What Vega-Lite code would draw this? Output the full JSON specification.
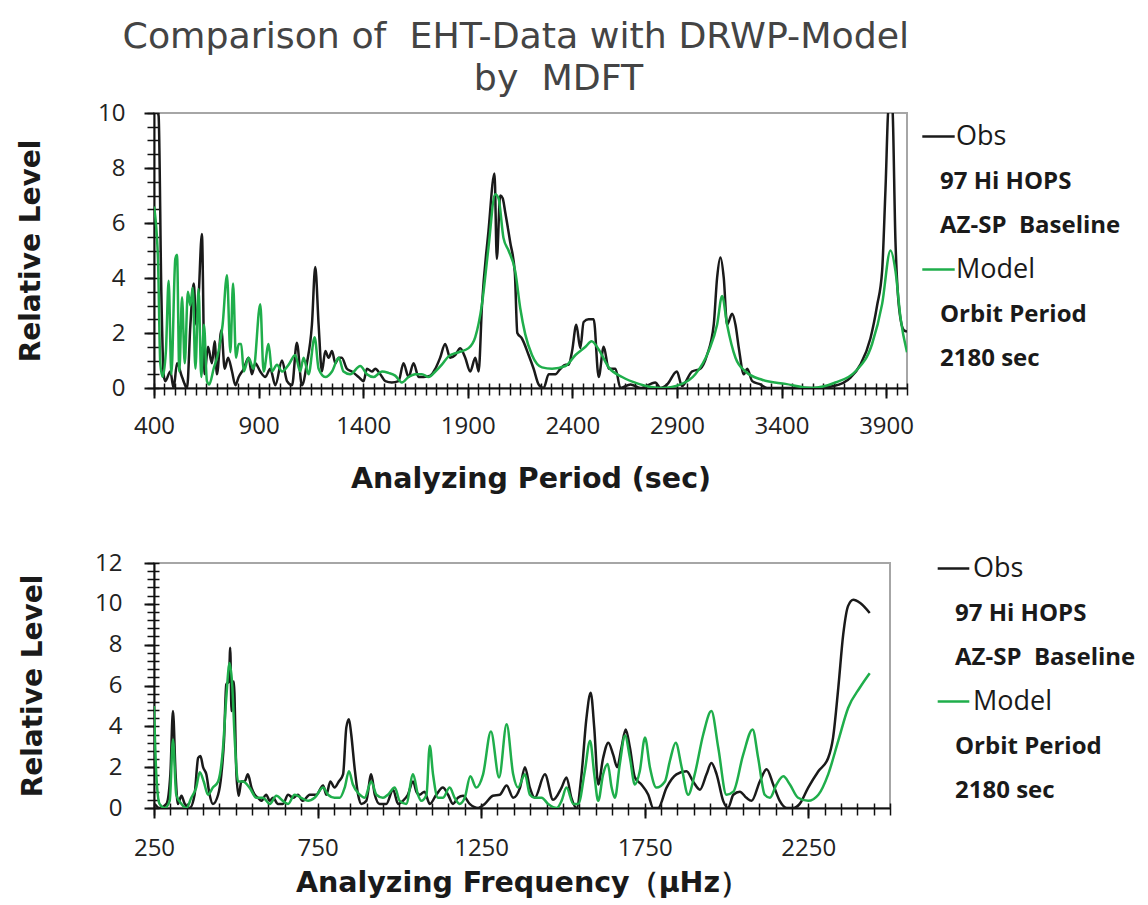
{
"$schema": "https://vega.github.io/schema/vega-lite/v6.json",
"background": "white",
"padding": {"left": 16, "top": 19, "right": 2, "bottom": 2},
"config": {"view": {"stroke": "#a6a6a6", "strokeWidth": 2}},
"title": {"text": "Comparison of \u00a0EHT-Data with DRWP-Model", "font": "DejaVu Sans", "fontSize": 36.3, "fontWeight": "normal", "color": "#444444", "anchor": "start", "dx": 106, "offset": 4},
"datasets": {
"top": [
{"p":400,"v":10.3,"s":"Obs"},{"p":403,"v":10.3,"s":"Obs"},{"p":422,"v":9.9,"s":"Obs"},{"p":435,"v":3.5,"s":"Obs"},{"p":446,"v":0.5,"s":"Obs"},{"p":454,"v":0.25,"s":"Obs"},{"p":478,"v":0.6,"s":"Obs"},{"p":494,"v":0,"s":"Obs"},{"p":510,"v":0.9,"s":"Obs"},{"p":534,"v":0.4,"s":"Obs"},{"p":558,"v":0,"s":"Obs"},{"p":574,"v":2.3,"s":"Obs"},{"p":590,"v":3.8,"s":"Obs"},{"p":602,"v":2.3,"s":"Obs"},{"p":613,"v":3.3,"s":"Obs"},{"p":629,"v":5.6,"s":"Obs"},{"p":642,"v":0.5,"s":"Obs"},{"p":658,"v":1.5,"s":"Obs"},{"p":677,"v":0.9,"s":"Obs"},{"p":690,"v":1.7,"s":"Obs"},{"p":701,"v":0.5,"s":"Obs"},{"p":722,"v":2.1,"s":"Obs"},{"p":738,"v":0.7,"s":"Obs"},{"p":754,"v":1.1,"s":"Obs"},{"p":773,"v":0.6,"s":"Obs"},{"p":789,"v":0.1,"s":"Obs"},{"p":805,"v":0.4,"s":"Obs"},{"p":829,"v":0.7,"s":"Obs"},{"p":852,"v":1.1,"s":"Obs"},{"p":868,"v":0.5,"s":"Obs"},{"p":884,"v":0.9,"s":"Obs"},{"p":908,"v":0.6,"s":"Obs"},{"p":932,"v":0.4,"s":"Obs"},{"p":956,"v":0.7,"s":"Obs"},{"p":980,"v":0.1,"s":"Obs"},{"p":1012,"v":1.0,"s":"Obs"},{"p":1036,"v":0.25,"s":"Obs"},{"p":1060,"v":0.1,"s":"Obs"},{"p":1083,"v":1.65,"s":"Obs"},{"p":1107,"v":0.1,"s":"Obs"},{"p":1131,"v":0.9,"s":"Obs"},{"p":1155,"v":2.3,"s":"Obs"},{"p":1171,"v":4.4,"s":"Obs"},{"p":1187,"v":2.3,"s":"Obs"},{"p":1203,"v":0.6,"s":"Obs"},{"p":1219,"v":1.35,"s":"Obs"},{"p":1235,"v":1.1,"s":"Obs"},{"p":1251,"v":1.35,"s":"Obs"},{"p":1267,"v":0.9,"s":"Obs"},{"p":1283,"v":1.1,"s":"Obs"},{"p":1298,"v":1.1,"s":"Obs"},{"p":1322,"v":0.7,"s":"Obs"},{"p":1346,"v":0.6,"s":"Obs"},{"p":1378,"v":0.4,"s":"Obs"},{"p":1402,"v":0.25,"s":"Obs"},{"p":1418,"v":0.7,"s":"Obs"},{"p":1442,"v":0.6,"s":"Obs"},{"p":1458,"v":0.7,"s":"Obs"},{"p":1482,"v":0.5,"s":"Obs"},{"p":1506,"v":0.25,"s":"Obs"},{"p":1537,"v":0.2,"s":"Obs"},{"p":1569,"v":0.25,"s":"Obs"},{"p":1593,"v":0.9,"s":"Obs"},{"p":1617,"v":0.4,"s":"Obs"},{"p":1641,"v":0.9,"s":"Obs"},{"p":1665,"v":0.4,"s":"Obs"},{"p":1689,"v":0.4,"s":"Obs"},{"p":1721,"v":0.45,"s":"Obs"},{"p":1745,"v":0.7,"s":"Obs"},{"p":1768,"v":1.1,"s":"Obs"},{"p":1792,"v":1.6,"s":"Obs"},{"p":1816,"v":1.1,"s":"Obs"},{"p":1840,"v":1.2,"s":"Obs"},{"p":1864,"v":1.45,"s":"Obs"},{"p":1888,"v":1.1,"s":"Obs"},{"p":1912,"v":0.6,"s":"Obs"},{"p":1936,"v":1.1,"s":"Obs"},{"p":1952,"v":0.6,"s":"Obs"},{"p":1968,"v":3.0,"s":"Obs"},{"p":1999,"v":5.7,"s":"Obs"},{"p":2028,"v":7.8,"s":"Obs"},{"p":2039,"v":4.7,"s":"Obs"},{"p":2055,"v":7.0,"s":"Obs"},{"p":2067,"v":6.9,"s":"Obs"},{"p":2079,"v":6.4,"s":"Obs"},{"p":2103,"v":5.3,"s":"Obs"},{"p":2125,"v":4.2,"s":"Obs"},{"p":2137,"v":2.0,"s":"Obs"},{"p":2159,"v":1.8,"s":"Obs"},{"p":2191,"v":1.2,"s":"Obs"},{"p":2215,"v":0.7,"s":"Obs"},{"p":2239,"v":0.13,"s":"Obs"},{"p":2263,"v":0,"s":"Obs"},{"p":2287,"v":0.5,"s":"Obs"},{"p":2319,"v":0.5,"s":"Obs"},{"p":2343,"v":0.7,"s":"Obs"},{"p":2367,"v":0.85,"s":"Obs"},{"p":2383,"v":0.85,"s":"Obs"},{"p":2399,"v":1.35,"s":"Obs"},{"p":2419,"v":2.3,"s":"Obs"},{"p":2438,"v":1.45,"s":"Obs"},{"p":2454,"v":2.4,"s":"Obs"},{"p":2478,"v":2.5,"s":"Obs"},{"p":2502,"v":2.5,"s":"Obs"},{"p":2526,"v":0.4,"s":"Obs"},{"p":2550,"v":1.5,"s":"Obs"},{"p":2574,"v":0.7,"s":"Obs"},{"p":2606,"v":0.7,"s":"Obs"},{"p":2630,"v":0,"s":"Obs"},{"p":2678,"v":0.13,"s":"Obs"},{"p":2725,"v":0,"s":"Obs"},{"p":2797,"v":0.2,"s":"Obs"},{"p":2821,"v":0,"s":"Obs"},{"p":2853,"v":0.13,"s":"Obs"},{"p":2900,"v":0.6,"s":"Obs"},{"p":2924,"v":0.07,"s":"Obs"},{"p":2972,"v":0.6,"s":"Obs"},{"p":3012,"v":0.7,"s":"Obs"},{"p":3044,"v":1.2,"s":"Obs"},{"p":3076,"v":2.3,"s":"Obs"},{"p":3092,"v":4.0,"s":"Obs"},{"p":3108,"v":4.75,"s":"Obs"},{"p":3124,"v":4.0,"s":"Obs"},{"p":3140,"v":2.3,"s":"Obs"},{"p":3164,"v":2.7,"s":"Obs"},{"p":3180,"v":2.3,"s":"Obs"},{"p":3196,"v":1.45,"s":"Obs"},{"p":3220,"v":0.5,"s":"Obs"},{"p":3236,"v":0.7,"s":"Obs"},{"p":3260,"v":0.25,"s":"Obs"},{"p":3299,"v":0.13,"s":"Obs"},{"p":3331,"v":0,"s":"Obs"},{"p":3411,"v":0,"s":"Obs"},{"p":3490,"v":0,"s":"Obs"},{"p":3570,"v":0,"s":"Obs"},{"p":3650,"v":0.07,"s":"Obs"},{"p":3730,"v":0.38,"s":"Obs"},{"p":3777,"v":0.85,"s":"Obs"},{"p":3825,"v":1.8,"s":"Obs"},{"p":3857,"v":3.0,"s":"Obs"},{"p":3881,"v":4.25,"s":"Obs"},{"p":3897,"v":7.2,"s":"Obs"},{"p":3913,"v":10.3,"s":"Obs"},{"p":3929,"v":10.3,"s":"Obs"},{"p":3945,"v":5.3,"s":"Obs"},{"p":3961,"v":3.0,"s":"Obs"},{"p":3985,"v":2.1,"s":"Obs"},{"p":4000,"v":2.05,"s":"Obs"},
{"p":400,"v":6.6,"s":"Model"},{"p":419,"v":4.7,"s":"Model"},{"p":430,"v":0.9,"s":"Model"},{"p":441,"v":0.4,"s":"Model"},{"p":457,"v":1.35,"s":"Model"},{"p":470,"v":3.9,"s":"Model"},{"p":483,"v":0.5,"s":"Model"},{"p":502,"v":4.7,"s":"Model"},{"p":510,"v":4.85,"s":"Model"},{"p":521,"v":0.6,"s":"Model"},{"p":534,"v":3.3,"s":"Model"},{"p":547,"v":0.9,"s":"Model"},{"p":562,"v":3.5,"s":"Model"},{"p":574,"v":3.0,"s":"Model"},{"p":585,"v":3.65,"s":"Model"},{"p":598,"v":0.7,"s":"Model"},{"p":613,"v":3.6,"s":"Model"},{"p":626,"v":0.4,"s":"Model"},{"p":639,"v":2.3,"s":"Model"},{"p":653,"v":0.25,"s":"Model"},{"p":664,"v":0.13,"s":"Model"},{"p":685,"v":0.7,"s":"Model"},{"p":709,"v":1.35,"s":"Model"},{"p":728,"v":2.3,"s":"Model"},{"p":749,"v":4.1,"s":"Model"},{"p":765,"v":1.3,"s":"Model"},{"p":778,"v":3.8,"s":"Model"},{"p":792,"v":1.1,"s":"Model"},{"p":805,"v":1.6,"s":"Model"},{"p":817,"v":1.6,"s":"Model"},{"p":829,"v":0.6,"s":"Model"},{"p":852,"v":1.1,"s":"Model"},{"p":876,"v":0.7,"s":"Model"},{"p":908,"v":3.05,"s":"Model"},{"p":924,"v":0.6,"s":"Model"},{"p":948,"v":1.6,"s":"Model"},{"p":964,"v":0.6,"s":"Model"},{"p":988,"v":0.85,"s":"Model"},{"p":1012,"v":0.6,"s":"Model"},{"p":1044,"v":0.85,"s":"Model"},{"p":1075,"v":1.2,"s":"Model"},{"p":1099,"v":0.6,"s":"Model"},{"p":1115,"v":1.1,"s":"Model"},{"p":1139,"v":0.5,"s":"Model"},{"p":1168,"v":1.85,"s":"Model"},{"p":1187,"v":0.7,"s":"Model"},{"p":1219,"v":0.4,"s":"Model"},{"p":1251,"v":0.6,"s":"Model"},{"p":1283,"v":1.1,"s":"Model"},{"p":1306,"v":0.6,"s":"Model"},{"p":1338,"v":0.5,"s":"Model"},{"p":1386,"v":0.8,"s":"Model"},{"p":1418,"v":0.5,"s":"Model"},{"p":1450,"v":0.4,"s":"Model"},{"p":1490,"v":0.6,"s":"Model"},{"p":1521,"v":0.55,"s":"Model"},{"p":1553,"v":0.45,"s":"Model"},{"p":1585,"v":0.2,"s":"Model"},{"p":1617,"v":0.4,"s":"Model"},{"p":1649,"v":0.5,"s":"Model"},{"p":1681,"v":0.5,"s":"Model"},{"p":1713,"v":0.4,"s":"Model"},{"p":1745,"v":0.6,"s":"Model"},{"p":1776,"v":0.85,"s":"Model"},{"p":1808,"v":1.15,"s":"Model"},{"p":1856,"v":1.3,"s":"Model"},{"p":1904,"v":1.45,"s":"Model"},{"p":1936,"v":1.85,"s":"Model"},{"p":1968,"v":3.05,"s":"Model"},{"p":1999,"v":5.1,"s":"Model"},{"p":2031,"v":7.05,"s":"Model"},{"p":2047,"v":6.9,"s":"Model"},{"p":2071,"v":5.45,"s":"Model"},{"p":2095,"v":5.0,"s":"Model"},{"p":2127,"v":4.25,"s":"Model"},{"p":2151,"v":2.9,"s":"Model"},{"p":2175,"v":1.95,"s":"Model"},{"p":2207,"v":1.2,"s":"Model"},{"p":2255,"v":0.75,"s":"Model"},{"p":2303,"v":0.7,"s":"Model"},{"p":2367,"v":0.8,"s":"Model"},{"p":2415,"v":1.2,"s":"Model"},{"p":2463,"v":1.5,"s":"Model"},{"p":2492,"v":1.7,"s":"Model"},{"p":2526,"v":1.4,"s":"Model"},{"p":2574,"v":0.75,"s":"Model"},{"p":2638,"v":0.4,"s":"Model"},{"p":2717,"v":0.15,"s":"Model"},{"p":2829,"v":0,"s":"Model"},{"p":2924,"v":0.15,"s":"Model"},{"p":2988,"v":0.5,"s":"Model"},{"p":3052,"v":1.35,"s":"Model"},{"p":3092,"v":2.3,"s":"Model"},{"p":3116,"v":3.35,"s":"Model"},{"p":3140,"v":2.3,"s":"Model"},{"p":3180,"v":1.1,"s":"Model"},{"p":3228,"v":0.6,"s":"Model"},{"p":3307,"v":0.3,"s":"Model"},{"p":3419,"v":0.15,"s":"Model"},{"p":3546,"v":0,"s":"Model"},{"p":3658,"v":0.2,"s":"Model"},{"p":3753,"v":0.6,"s":"Model"},{"p":3833,"v":1.6,"s":"Model"},{"p":3881,"v":3.05,"s":"Model"},{"p":3921,"v":5.0,"s":"Model"},{"p":3945,"v":4.25,"s":"Model"},{"p":3969,"v":2.55,"s":"Model"},{"p":4000,"v":1.3,"s":"Model"}
],
"bottom": [
{"f":252,"v":0.2,"s":"Obs"},{"f":267,"v":0,"s":"Obs"},{"f":288,"v":0.2,"s":"Obs"},{"f":300,"v":1.65,"s":"Obs"},{"f":308,"v":4.75,"s":"Obs"},{"f":316,"v":1.65,"s":"Obs"},{"f":323,"v":0.2,"s":"Obs"},{"f":334,"v":0.6,"s":"Obs"},{"f":344,"v":0.2,"s":"Obs"},{"f":359,"v":0,"s":"Obs"},{"f":374,"v":0.65,"s":"Obs"},{"f":385,"v":2.45,"s":"Obs"},{"f":392,"v":2.55,"s":"Obs"},{"f":400,"v":2.0,"s":"Obs"},{"f":410,"v":1.65,"s":"Obs"},{"f":420,"v":0.65,"s":"Obs"},{"f":430,"v":0.2,"s":"Obs"},{"f":446,"v":0.65,"s":"Obs"},{"f":456,"v":1.65,"s":"Obs"},{"f":464,"v":3.3,"s":"Obs"},{"f":471,"v":6.05,"s":"Obs"},{"f":479,"v":6.2,"s":"Obs"},{"f":483,"v":7.85,"s":"Obs"},{"f":487,"v":4.75,"s":"Obs"},{"f":494,"v":6.2,"s":"Obs"},{"f":502,"v":1.65,"s":"Obs"},{"f":509,"v":0.6,"s":"Obs"},{"f":517,"v":1.3,"s":"Obs"},{"f":527,"v":1.3,"s":"Obs"},{"f":537,"v":1.65,"s":"Obs"},{"f":548,"v":1.0,"s":"Obs"},{"f":558,"v":0.65,"s":"Obs"},{"f":568,"v":0.5,"s":"Obs"},{"f":578,"v":0.35,"s":"Obs"},{"f":593,"v":0.65,"s":"Obs"},{"f":604,"v":0.35,"s":"Obs"},{"f":614,"v":0.5,"s":"Obs"},{"f":629,"v":0.2,"s":"Obs"},{"f":644,"v":0.2,"s":"Obs"},{"f":660,"v":0.65,"s":"Obs"},{"f":675,"v":0.5,"s":"Obs"},{"f":690,"v":0.65,"s":"Obs"},{"f":705,"v":0.35,"s":"Obs"},{"f":726,"v":0.65,"s":"Obs"},{"f":746,"v":0.65,"s":"Obs"},{"f":767,"v":1.1,"s":"Obs"},{"f":777,"v":0.65,"s":"Obs"},{"f":789,"v":1.3,"s":"Obs"},{"f":802,"v":1.0,"s":"Obs"},{"f":815,"v":1.3,"s":"Obs"},{"f":828,"v":1.65,"s":"Obs"},{"f":838,"v":3.95,"s":"Obs"},{"f":846,"v":4.35,"s":"Obs"},{"f":853,"v":3.6,"s":"Obs"},{"f":863,"v":2.0,"s":"Obs"},{"f":874,"v":0.65,"s":"Obs"},{"f":884,"v":0.2,"s":"Obs"},{"f":899,"v":0.35,"s":"Obs"},{"f":914,"v":1.65,"s":"Obs"},{"f":925,"v":0.65,"s":"Obs"},{"f":940,"v":0.2,"s":"Obs"},{"f":960,"v":0.2,"s":"Obs"},{"f":981,"v":0.9,"s":"Obs"},{"f":996,"v":0.2,"s":"Obs"},{"f":1011,"v":0.35,"s":"Obs"},{"f":1026,"v":0.65,"s":"Obs"},{"f":1042,"v":1.3,"s":"Obs"},{"f":1052,"v":0.8,"s":"Obs"},{"f":1062,"v":0.65,"s":"Obs"},{"f":1077,"v":0.8,"s":"Obs"},{"f":1093,"v":0.2,"s":"Obs"},{"f":1113,"v":0.65,"s":"Obs"},{"f":1133,"v":1.0,"s":"Obs"},{"f":1149,"v":0.65,"s":"Obs"},{"f":1164,"v":0.2,"s":"Obs"},{"f":1179,"v":0.5,"s":"Obs"},{"f":1195,"v":0.6,"s":"Obs"},{"f":1215,"v":0.2,"s":"Obs"},{"f":1241,"v":0,"s":"Obs"},{"f":1261,"v":0.2,"s":"Obs"},{"f":1286,"v":0.6,"s":"Obs"},{"f":1307,"v":0.65,"s":"Obs"},{"f":1328,"v":1.1,"s":"Obs"},{"f":1348,"v":0.5,"s":"Obs"},{"f":1369,"v":1.0,"s":"Obs"},{"f":1384,"v":2.0,"s":"Obs"},{"f":1399,"v":1.0,"s":"Obs"},{"f":1414,"v":0.5,"s":"Obs"},{"f":1445,"v":1.65,"s":"Obs"},{"f":1470,"v":0.4,"s":"Obs"},{"f":1496,"v":1.0,"s":"Obs"},{"f":1511,"v":1.5,"s":"Obs"},{"f":1526,"v":0.5,"s":"Obs"},{"f":1542,"v":0,"s":"Obs"},{"f":1557,"v":1.65,"s":"Obs"},{"f":1572,"v":4.4,"s":"Obs"},{"f":1585,"v":5.65,"s":"Obs"},{"f":1596,"v":3.9,"s":"Obs"},{"f":1608,"v":1.15,"s":"Obs"},{"f":1623,"v":2.45,"s":"Obs"},{"f":1639,"v":3.2,"s":"Obs"},{"f":1654,"v":2.6,"s":"Obs"},{"f":1666,"v":2.0,"s":"Obs"},{"f":1679,"v":2.95,"s":"Obs"},{"f":1692,"v":3.85,"s":"Obs"},{"f":1705,"v":2.95,"s":"Obs"},{"f":1720,"v":1.5,"s":"Obs"},{"f":1740,"v":1.15,"s":"Obs"},{"f":1761,"v":0.65,"s":"Obs"},{"f":1776,"v":0,"s":"Obs"},{"f":1791,"v":0,"s":"Obs"},{"f":1817,"v":1.0,"s":"Obs"},{"f":1847,"v":1.65,"s":"Obs"},{"f":1878,"v":1.8,"s":"Obs"},{"f":1898,"v":1.3,"s":"Obs"},{"f":1919,"v":0.9,"s":"Obs"},{"f":1939,"v":1.65,"s":"Obs"},{"f":1954,"v":2.2,"s":"Obs"},{"f":1970,"v":1.65,"s":"Obs"},{"f":1990,"v":0.35,"s":"Obs"},{"f":2005,"v":0,"s":"Obs"},{"f":2021,"v":0.65,"s":"Obs"},{"f":2041,"v":0.8,"s":"Obs"},{"f":2061,"v":0.5,"s":"Obs"},{"f":2077,"v":0.35,"s":"Obs"},{"f":2102,"v":1.3,"s":"Obs"},{"f":2123,"v":1.9,"s":"Obs"},{"f":2143,"v":1.15,"s":"Obs"},{"f":2163,"v":0.35,"s":"Obs"},{"f":2184,"v":0,"s":"Obs"},{"f":2204,"v":0,"s":"Obs"},{"f":2224,"v":0.2,"s":"Obs"},{"f":2250,"v":1.0,"s":"Obs"},{"f":2281,"v":1.8,"s":"Obs"},{"f":2311,"v":2.45,"s":"Obs"},{"f":2326,"v":3.45,"s":"Obs"},{"f":2342,"v":5.9,"s":"Obs"},{"f":2357,"v":8.5,"s":"Obs"},{"f":2372,"v":9.9,"s":"Obs"},{"f":2388,"v":10.2,"s":"Obs"},{"f":2408,"v":10.05,"s":"Obs"},{"f":2438,"v":9.55,"s":"Obs"},
{"f":250,"v":5.0,"s":"Model"},{"f":257,"v":1.65,"s":"Model"},{"f":267,"v":0.2,"s":"Model"},{"f":283,"v":0,"s":"Model"},{"f":298,"v":0.35,"s":"Model"},{"f":308,"v":3.35,"s":"Model"},{"f":318,"v":0.65,"s":"Model"},{"f":334,"v":0.2,"s":"Model"},{"f":349,"v":0,"s":"Model"},{"f":364,"v":0.5,"s":"Model"},{"f":379,"v":1.0,"s":"Model"},{"f":390,"v":1.75,"s":"Model"},{"f":402,"v":1.3,"s":"Model"},{"f":415,"v":0.65,"s":"Model"},{"f":430,"v":1.0,"s":"Model"},{"f":446,"v":1.3,"s":"Model"},{"f":461,"v":2.95,"s":"Model"},{"f":471,"v":5.4,"s":"Model"},{"f":481,"v":7.1,"s":"Model"},{"f":489,"v":6.05,"s":"Model"},{"f":497,"v":3.3,"s":"Model"},{"f":507,"v":1.3,"s":"Model"},{"f":522,"v":1.3,"s":"Model"},{"f":542,"v":1.0,"s":"Model"},{"f":563,"v":0.5,"s":"Model"},{"f":583,"v":0.5,"s":"Model"},{"f":604,"v":0.2,"s":"Model"},{"f":624,"v":0.6,"s":"Model"},{"f":644,"v":0.35,"s":"Model"},{"f":660,"v":0.2,"s":"Model"},{"f":680,"v":0.65,"s":"Model"},{"f":700,"v":0.5,"s":"Model"},{"f":721,"v":0.35,"s":"Model"},{"f":741,"v":0.5,"s":"Model"},{"f":767,"v":1.0,"s":"Model"},{"f":782,"v":0.65,"s":"Model"},{"f":802,"v":0.5,"s":"Model"},{"f":818,"v":0.5,"s":"Model"},{"f":833,"v":1.0,"s":"Model"},{"f":846,"v":1.8,"s":"Model"},{"f":858,"v":1.15,"s":"Model"},{"f":879,"v":0.65,"s":"Model"},{"f":894,"v":0.5,"s":"Model"},{"f":914,"v":1.3,"s":"Model"},{"f":930,"v":0.65,"s":"Model"},{"f":950,"v":0.5,"s":"Model"},{"f":965,"v":0.65,"s":"Model"},{"f":986,"v":1.0,"s":"Model"},{"f":1001,"v":0.35,"s":"Model"},{"f":1021,"v":0.2,"s":"Model"},{"f":1042,"v":1.65,"s":"Model"},{"f":1057,"v":0.65,"s":"Model"},{"f":1067,"v":0.35,"s":"Model"},{"f":1083,"v":0.65,"s":"Model"},{"f":1093,"v":3.05,"s":"Model"},{"f":1103,"v":1.65,"s":"Model"},{"f":1118,"v":0.5,"s":"Model"},{"f":1133,"v":0.5,"s":"Model"},{"f":1154,"v":1.0,"s":"Model"},{"f":1169,"v":0.5,"s":"Model"},{"f":1184,"v":0.2,"s":"Model"},{"f":1200,"v":0.5,"s":"Model"},{"f":1217,"v":1.55,"s":"Model"},{"f":1235,"v":1.0,"s":"Model"},{"f":1256,"v":1.65,"s":"Model"},{"f":1280,"v":3.75,"s":"Model"},{"f":1305,"v":1.5,"s":"Model"},{"f":1328,"v":4.1,"s":"Model"},{"f":1348,"v":1.65,"s":"Model"},{"f":1363,"v":1.0,"s":"Model"},{"f":1384,"v":1.65,"s":"Model"},{"f":1399,"v":0.65,"s":"Model"},{"f":1414,"v":0.5,"s":"Model"},{"f":1435,"v":0.5,"s":"Model"},{"f":1455,"v":0.2,"s":"Model"},{"f":1481,"v":0,"s":"Model"},{"f":1496,"v":0.35,"s":"Model"},{"f":1511,"v":1.0,"s":"Model"},{"f":1532,"v":0.2,"s":"Model"},{"f":1547,"v":0.2,"s":"Model"},{"f":1567,"v":1.8,"s":"Model"},{"f":1583,"v":3.3,"s":"Model"},{"f":1596,"v":1.65,"s":"Model"},{"f":1608,"v":0.35,"s":"Model"},{"f":1623,"v":1.65,"s":"Model"},{"f":1637,"v":2.15,"s":"Model"},{"f":1649,"v":1.0,"s":"Model"},{"f":1659,"v":0.5,"s":"Model"},{"f":1674,"v":2.15,"s":"Model"},{"f":1690,"v":3.55,"s":"Model"},{"f":1705,"v":2.45,"s":"Model"},{"f":1720,"v":1.15,"s":"Model"},{"f":1735,"v":1.8,"s":"Model"},{"f":1751,"v":3.45,"s":"Model"},{"f":1766,"v":2.0,"s":"Model"},{"f":1786,"v":1.0,"s":"Model"},{"f":1812,"v":1.3,"s":"Model"},{"f":1827,"v":2.3,"s":"Model"},{"f":1845,"v":3.2,"s":"Model"},{"f":1863,"v":2.0,"s":"Model"},{"f":1883,"v":0.65,"s":"Model"},{"f":1903,"v":1.65,"s":"Model"},{"f":1929,"v":3.6,"s":"Model"},{"f":1954,"v":4.75,"s":"Model"},{"f":1975,"v":2.95,"s":"Model"},{"f":2000,"v":0.65,"s":"Model"},{"f":2021,"v":0.8,"s":"Model"},{"f":2051,"v":2.6,"s":"Model"},{"f":2080,"v":3.85,"s":"Model"},{"f":2097,"v":2.45,"s":"Model"},{"f":2117,"v":0.65,"s":"Model"},{"f":2133,"v":0.5,"s":"Model"},{"f":2153,"v":1.15,"s":"Model"},{"f":2174,"v":1.55,"s":"Model"},{"f":2194,"v":1.15,"s":"Model"},{"f":2219,"v":0.5,"s":"Model"},{"f":2250,"v":0.35,"s":"Model"},{"f":2281,"v":0.65,"s":"Model"},{"f":2311,"v":1.65,"s":"Model"},{"f":2342,"v":3.3,"s":"Model"},{"f":2372,"v":4.9,"s":"Model"},{"f":2408,"v":5.9,"s":"Model"},{"f":2438,"v":6.6,"s":"Model"}
]
},
"concat": [
{
"width": 753, "height": 275,
"title": {"text": "by \u00a0MDFT", "font": "DejaVu Sans", "fontSize": 36.3, "fontWeight": "normal", "color": "#444444", "anchor": "middle", "frame": "group", "dx": 28, "offset": 4},
"data": {"name": "top"},
"layer": [
{
"transform": [{"filter": "datum.s === 'Obs'"}],
"mark": {"type": "line", "strokeWidth": 2.5, "interpolate": "monotone", "clip": true},
"encoding": {
"x": {"field": "p", "type": "quantitative", "scale": {"domain": [400, 4000], "nice": false, "zero": false},
 "axis": {"orient": "bottom", "values": [400,450,500,550,600,650,700,750,800,850,900,950,1000,1050,1100,1150,1200,1250,1300,1350,1400,1450,1500,1550,1600,1650,1700,1750,1800,1850,1900,1950,2000,2050,2100,2150,2200,2250,2300,2350,2400,2450,2500,2550,2600,2650,2700,2750,2800,2850,2900,2950,3000,3050,3100,3150,3200,3250,3300,3350,3400,3450,3500,3550,3600,3650,3700,3750,3800,3850,3900,3950,4000], "labels": false, "domain": false, "grid": false, "ticks": true, "tickOpacity": 1, "tickSize": 12, "tickWidth": 1.5, "tickColor": "#111111", "offset": -5, "title": null}},
"y": {"field": "v", "type": "quantitative", "scale": {"domain": [0, 10], "nice": false},
 "axis": {"orient": "left", "values": [0,0.5,1,1.5,2,2.5,3,3.5,4,4.5,5,5.5,6,6.5,7,7.5,8,8.5,9,9.5,10], "labels": false, "domain": false, "grid": false, "ticks": true, "tickOpacity": 1, "tickSize": 12, "tickWidth": 1.5, "tickColor": "#111111", "offset": -5, "title": null}},
"color": {"field": "s", "type": "nominal",
 "scale": {"domain": ["Obs", "97 Hi HOPS", "AZ-SP\u00a0 Baseline", "Model", "Orbit Period", "2180 sec"], "range": ["#1a1a1a", "transparent", "transparent", "#1fae4b", "transparent", "transparent"]},
 "legend": {"orient": "none", "legendX": 767, "legendY": 6, "title": null, "padding": 0, "symbolType": "stroke", "symbolSize": 1050, "symbolStrokeWidth": 2.5, "labelOffset": 0, "rowPadding": 14, "labelFont": "Open Sans", "labelFontSize": 27, "labelColor": "#1a1a1a", "labelLimit": 400,
  "encode": {"labels": {"update": {"fontSize": {"signal": "datum.value === 'Obs' || datum.value === 'Model' ? 27 : 24"}, "fontWeight": {"signal": "datum.value === 'Obs' || datum.value === 'Model' ? 'normal' : 'bold'"}, "dx": {"signal": "datum.value === 'Obs' || datum.value === 'Model' ? 0 : -16"}}}}}}
}
},
{
"transform": [{"filter": "datum.s === 'Model'"}],
"mark": {"type": "line", "strokeWidth": 2.5, "interpolate": "monotone", "clip": true},
"encoding": {
"x": {"field": "p", "type": "quantitative", "scale": {"domain": [400, 4000], "nice": false, "zero": false},
 "axis": {"orient": "bottom", "values": [400,900,1400,1900,2400,2900,3400,3900], "format": "d", "labelFlush": false, "grid": false, "ticks": true, "tickOpacity": 1, "tickSize": 10, "tickWidth": 2, "tickColor": "#111111", "domainColor": "#111111", "domainWidth": 2, "labelFont": "Open Sans", "labelFontSize": 24, "labelColor": "#222222", "labelPadding": 16, "title": "Analyzing Period (sec)", "titleFont": "DejaVu Sans", "titleFontSize": 28.5, "titleFontWeight": "bold", "titleColor": "#1a1a1a", "titlePadding": 26}},
"y": {"field": "v", "type": "quantitative", "scale": {"domain": [0, 10], "nice": false},
 "axis": {"orient": "left", "values": [0,2,4,6,8,10], "labelFlush": false, "grid": false, "ticks": true, "tickOpacity": 1, "tickSize": 10, "tickWidth": 2, "tickColor": "#111111", "domainColor": "#111111", "domainWidth": 2, "labelFont": "Open Sans", "labelFontSize": 24, "labelColor": "#222222", "labelPadding": 19, "title": "Relative Level", "titleFont": "DejaVu Sans", "titleFontSize": 28, "titleFontWeight": "bold", "titleColor": "#1a1a1a", "titlePadding": 52}},
"color": {"field": "s", "type": "nominal",
 "scale": {"domain": ["Obs", "97 Hi HOPS", "AZ-SP\u00a0 Baseline", "Model", "Orbit Period", "2180 sec"], "range": ["#1a1a1a", "transparent", "transparent", "#1fae4b", "transparent", "transparent"]},
 "legend": {"orient": "none", "legendX": 767, "legendY": 6, "title": null, "padding": 0, "symbolType": "stroke", "symbolSize": 1050, "symbolStrokeWidth": 2.5, "labelOffset": 0, "rowPadding": 14, "labelFont": "Open Sans", "labelFontSize": 27, "labelColor": "#1a1a1a", "labelLimit": 400,
  "encode": {"labels": {"update": {"fontSize": {"signal": "datum.value === 'Obs' || datum.value === 'Model' ? 27 : 24"}, "fontWeight": {"signal": "datum.value === 'Obs' || datum.value === 'Model' ? 'normal' : 'bold'"}, "dx": {"signal": "datum.value === 'Obs' || datum.value === 'Model' ? 0 : -16"}}}}}}
}
}
],
"resolve": {"axis": {"x": "independent", "y": "independent"}}
},
{
"width": 736, "height": 245,
"data": {"name": "bottom"},
"layer": [
{
"transform": [{"filter": "datum.s === 'Obs'"}],
"mark": {"type": "line", "strokeWidth": 2.5, "interpolate": "monotone", "clip": true},
"encoding": {
"x": {"field": "f", "type": "quantitative", "scale": {"domain": [250, 2500], "nice": false, "zero": false},
 "axis": {"orient": "bottom", "values": [250,300,350,400,450,500,550,600,650,700,750,800,850,900,950,1000,1050,1100,1150,1200,1250,1300,1350,1400,1450,1500,1550,1600,1650,1700,1750,1800,1850,1900,1950,2000,2050,2100,2150,2200,2250,2300,2350,2400,2450,2500], "labels": false, "domain": false, "grid": false, "ticks": true, "tickOpacity": 1, "tickSize": 12, "tickWidth": 1.5, "tickColor": "#111111", "offset": -5, "title": null}},
"y": {"field": "v", "type": "quantitative", "scale": {"domain": [0, 12], "nice": false},
 "axis": {"orient": "left", "values": [0,0.4,0.8,1.2,1.6,2,2.4,2.8,3.2,3.6,4,4.4,4.8,5.2,5.6,6,6.4,6.8,7.2,7.6,8,8.4,8.8,9.2,9.6,10,10.4,10.8,11.2,11.6,12], "labels": false, "domain": false, "grid": false, "ticks": true, "tickOpacity": 1, "tickSize": 12, "tickWidth": 1.5, "tickColor": "#111111", "offset": -5, "title": null}},
"color": {"field": "s", "type": "nominal",
 "scale": {"domain": ["Obs", "97 Hi HOPS", "AZ-SP\u00a0 Baseline", "Model", "Orbit Period", "2180 sec"], "range": ["#1a1a1a", "transparent", "transparent", "#1fae4b", "transparent", "transparent"]},
 "legend": {"orient": "none", "legendX": 782, "legendY": -12, "title": null, "padding": 0, "symbolType": "stroke", "symbolSize": 1000, "symbolStrokeWidth": 2.5, "labelOffset": 2, "rowPadding": 14, "labelFont": "Open Sans", "labelFontSize": 27, "labelColor": "#1a1a1a", "labelLimit": 400,
  "encode": {"labels": {"update": {"fontSize": {"signal": "datum.value === 'Obs' || datum.value === 'Model' ? 27 : 24"}, "fontWeight": {"signal": "datum.value === 'Obs' || datum.value === 'Model' ? 'normal' : 'bold'"}, "dx": {"signal": "datum.value === 'Obs' || datum.value === 'Model' ? 0 : -18"}}}}}}
}
},
{
"transform": [{"filter": "datum.s === 'Model'"}],
"mark": {"type": "line", "strokeWidth": 2.5, "interpolate": "monotone", "clip": true},
"encoding": {
"x": {"field": "f", "type": "quantitative", "scale": {"domain": [250, 2500], "nice": false, "zero": false},
 "axis": {"orient": "bottom", "values": [250,750,1250,1750,2250], "format": "d", "labelFlush": false, "grid": false, "ticks": true, "tickOpacity": 1, "tickSize": 10, "tickWidth": 2, "tickColor": "#111111", "domainColor": "#111111", "domainWidth": 2, "labelFont": "Open Sans", "labelFontSize": 24, "labelColor": "#222222", "labelPadding": 18, "title": "Analyzing Frequency（μHz）", "titleFont": "DejaVu Sans", "titleFontSize": 28.5, "titleFontWeight": "bold", "titleColor": "#1a1a1a", "titlePadding": 8}},
"y": {"field": "v", "type": "quantitative", "scale": {"domain": [0, 12], "nice": false},
 "axis": {"orient": "left", "values": [0,2,4,6,8,10,12], "labelFlush": false, "grid": false, "ticks": true, "tickOpacity": 1, "tickSize": 10, "tickWidth": 2, "tickColor": "#111111", "domainColor": "#111111", "domainWidth": 2, "labelFont": "Open Sans", "labelFontSize": 24, "labelColor": "#222222", "labelPadding": 22, "title": "Relative Level", "titleFont": "DejaVu Sans", "titleFontSize": 28, "titleFontWeight": "bold", "titleColor": "#1a1a1a", "titlePadding": 47}},
"color": {"field": "s", "type": "nominal",
 "scale": {"domain": ["Obs", "97 Hi HOPS", "AZ-SP\u00a0 Baseline", "Model", "Orbit Period", "2180 sec"], "range": ["#1a1a1a", "transparent", "transparent", "#1fae4b", "transparent", "transparent"]},
 "legend": {"orient": "none", "legendX": 782, "legendY": -12, "title": null, "padding": 0, "symbolType": "stroke", "symbolSize": 1000, "symbolStrokeWidth": 2.5, "labelOffset": 2, "rowPadding": 14, "labelFont": "Open Sans", "labelFontSize": 27, "labelColor": "#1a1a1a", "labelLimit": 400,
  "encode": {"labels": {"update": {"fontSize": {"signal": "datum.value === 'Obs' || datum.value === 'Model' ? 27 : 24"}, "fontWeight": {"signal": "datum.value === 'Obs' || datum.value === 'Model' ? 'normal' : 'bold'"}, "dx": {"signal": "datum.value === 'Obs' || datum.value === 'Model' ? 0 : -18"}}}}}}
}
}
],
"resolve": {"axis": {"x": "independent", "y": "independent"}}
}
],
"columns": 1,
"align": "none",
"spacing": 56,
"resolve": {"scale": {"color": "independent"}, "legend": {"color": "independent"}}
}
